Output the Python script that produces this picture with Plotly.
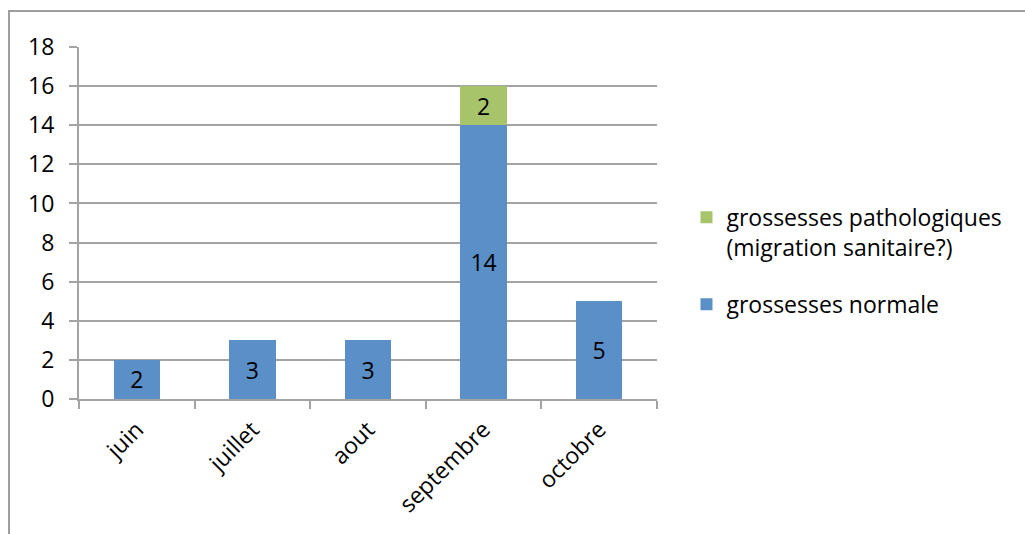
import plotly.graph_objects as go

months = ["juin", "juillet", "aout", "septembre", "octobre"]
normal = [2, 3, 3, 14, 5]
patho = [None, None, None, 2, None]
y_ticks = [0, 2, 4, 6, 8, 10, 12, 14, 16, 18]

BLUE = "#5B8FC7"
GREEN = "#A8C46B"
GRID = "#A3A3A3"
FONT = "Open Sans"
FS = 23

fig = go.Figure()
fig.add_trace(go.Bar(
    x=months, y=normal, name="grossesses normale",
    marker=dict(color=BLUE, line=dict(width=0)),
    text=[str(v) for v in normal], textposition="inside",
    insidetextanchor="middle", textangle=0,
    textfont=dict(family=FONT, size=FS, color="black"),
    legendgroup="a", legendrank=2,
))
fig.add_trace(go.Bar(
    x=months, y=patho, name="grossesses pathologiques<br>(migration sanitaire?)",
    marker=dict(color=GREEN, line=dict(width=0)),
    text=[str(v) if v is not None else "" for v in patho], textposition="inside",
    insidetextanchor="middle", textangle=0,
    textfont=dict(family=FONT, size=FS, color="black"),
    legendgroup="b", legendrank=1,
))

fig.update_layout(
    width=1025, height=534,
    barmode="stack", bargap=0.6,
    paper_bgcolor="white", plot_bgcolor="white",
    margin=dict(l=79, r=368, t=47, b=135),
    font=dict(family=FONT, size=FS, color="black"),
    uniformtext=dict(mode="show", minsize=10),
    legend=dict(
        x=1.051, y=0.577, xanchor="left", yanchor="top",
        traceorder="grouped", tracegroupgap=24, valign="top",
        font=dict(family=FONT, size=FS, color="black"),
        itemwidth=30, bgcolor="rgba(0,0,0,0)",
    ),
    showlegend=True,
    shapes=[dict(
        type="rect", xref="paper", yref="paper",
        x0=(9 - 79) / 578, x1=2.0, y0=-1.0, y1=(399 - 11) / 352,
        line=dict(color="#9E9E9E", width=2), fillcolor="rgba(0,0,0,0)",
        layer="below",
    )],
)
fig.update_yaxes(
    range=[0, 18], tickvals=y_ticks, showgrid=True, gridcolor=GRID, gridwidth=2,
    showline=True, linecolor=GRID, linewidth=2,
    ticks="outside", ticklen=8, tickcolor=GRID, tickwidth=2,
    ticklabelstandoff=10,
    zeroline=False, tickfont=dict(family=FONT, size=FS),
    fixedrange=True,
)
fig.update_xaxes(
    type="category", showline=True, linecolor=GRID, linewidth=2,
    ticks="outside", ticklen=8, tickcolor=GRID, tickwidth=2,
    tickson="boundaries", tickangle=-45, ticklabelstandoff=6,
    tickfont=dict(family=FONT, size=FS),
    fixedrange=True,
)

fig.write_html("out.html")
